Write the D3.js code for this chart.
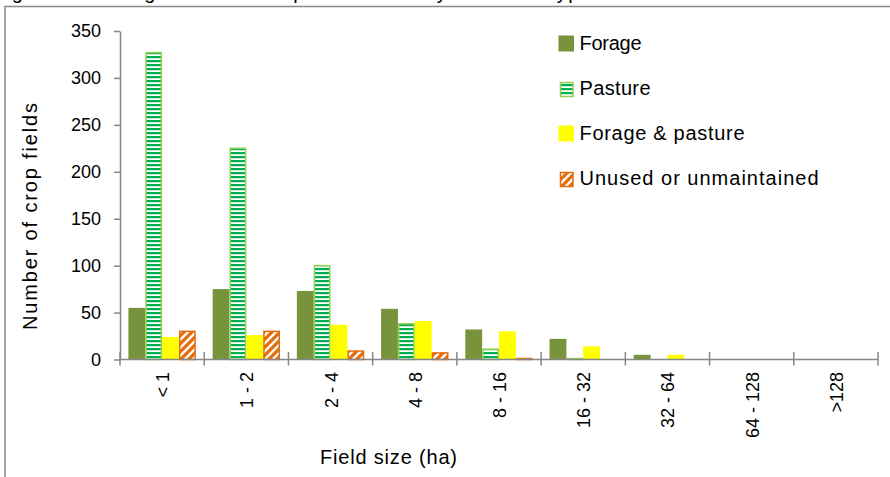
<!DOCTYPE html>
<html>
<head>
<meta charset="utf-8">
<script src="https://cdn.jsdelivr.net/npm/d3@7"></script>
<style>
  html, body { margin: 0; padding: 0; background: #fff; }
  svg { display: block; font-family: "Liberation Sans", Arial, sans-serif; }
</style>
</head>
<body>
<svg id="chart" width="890" height="477"></svg>
<script>
const categories = ["< 1", "1 - 2", "2 - 4", "4 - 8", "8 - 16", "16 - 32", "32 - 64", "64 - 128", ">128"];
const seriesNames = ["Forage", "Pasture", "Forage & pasture", "Unused or unmaintained"];
const forage        = [55, 75, 73, 54, 32, 22, 5, 0, 0];
const pasture       = [327, 225, 100, 38, 11, 1, 0, 0, 0];
const foragePasture = [24, 26, 37, 41, 30, 14, 5, 0, 0];
const unused        = [30, 30, 9, 7, 1, 0, 0, 0, 0];
const yTicks = [0, 50, 100, 150, 200, 250, 300, 350];
const yTitle = "Number of crop fields";
const xTitle = "Field size (ha)";
const caption = "Figure 4: Histogram of all crop field sizes by land use type";

const seriesValues = [forage, pasture, foragePasture, unused];
const svg = d3.select("#chart");

// patterns
const defs = svg.append("defs");
const pStripe = defs.append("pattern").attr("id", "pat-pasture")
  .attr("patternUnits", "userSpaceOnUse").attr("width", 8).attr("height", 4);
pStripe.append("rect").attr("width", 8).attr("height", 4).attr("fill", "#ffffff");
pStripe.append("rect").attr("width", 8).attr("height", 2.2).attr("fill", "#00B050");

const pDiag = defs.append("pattern").attr("id", "pat-unused")
  .attr("patternUnits", "userSpaceOnUse").attr("width", 8).attr("height", 8);
pDiag.append("rect").attr("width", 8).attr("height", 8).attr("fill", "#E46C0A");
pDiag.append("path").attr("d", "M-2,2 L2,-2 M0,8 L8,0 M6,10 L10,6")
  .attr("stroke", "#ffffff").attr("stroke-width", 2.4);

const styles = [
  { fill: "#77933C", stroke: "none", sw: 0 },
  { fill: "url(#pat-pasture)", stroke: "#92D050", sw: 1.5 },
  { fill: "#FFFF00", stroke: "none", sw: 0 },
  { fill: "url(#pat-unused)", stroke: "#E46C0A", sw: 1.5 }
];

// frame and caption (caption is cropped at the top edge, as in the reference)
svg.append("text").attr("x", -8).attr("y", -1).attr("font-size", 20)
  .attr("textLength", 600).attr("lengthAdjust", "spacing").text(caption);
svg.append("rect").attr("x", 5).attr("y", 6.5).attr("width", 900).attr("height", 500)
  .attr("fill", "none").attr("stroke", "#898989").attr("stroke-width", 1.5);

const x = d3.scaleBand().domain(categories).range([120, 878]).paddingInner(0).paddingOuter(0);
const bw = x.bandwidth();
const xs = d3.scaleBand().domain(d3.range(seriesNames.length)).range([bw * 0.1, bw * 0.9]).padding(0);
const y = d3.scaleLinear().domain([0, 350]).range([359.5, 31]);

// bars
seriesValues.forEach((vals, si) => {
  const st = styles[si];
  svg.append("g").selectAll("rect")
    .data(vals.map((v, i) => ({ v, c: categories[i] })).filter(d => d.v > 0))
    .join("rect")
    .attr("x", d => x(d.c) + xs(si) + st.sw / 2)
    .attr("width", xs.bandwidth() - st.sw)
    .attr("y", d => y(d.v))
    .attr("height", d => y(0) - y(d.v))
    .attr("fill", st.fill)
    .attr("stroke", st.stroke)
    .attr("stroke-width", st.sw);
});

// y axis
const yAxis = svg.append("g").attr("transform", "translate(120,0)")
  .call(d3.axisLeft(y).tickValues(yTicks).tickSize(6).tickPadding(13).tickSizeOuter(0));
yAxis.select(".domain").attr("stroke", "#868686").attr("stroke-width", 1.5);
yAxis.selectAll(".tick line").attr("stroke", "#868686").attr("stroke-width", 1.5);
yAxis.selectAll(".tick text").attr("font-size", 18).attr("fill", "#000")
  .attr("font-family", "Liberation Sans, Arial, sans-serif");

// x axis line and boundary ticks
const xAxisG = svg.append("g");
xAxisG.append("line").attr("x1", x.range()[0]).attr("x2", x.range()[1])
  .attr("y1", y(0)).attr("y2", y(0)).attr("stroke", "#868686").attr("stroke-width", 1.5);
const bounds = categories.map(c => x(c)).concat([x.range()[1]]);
xAxisG.selectAll("line.bt").data(bounds).join("line").attr("class", "bt")
  .attr("x1", d => d).attr("x2", d => d)
  .attr("y1", y(0) - 7.5).attr("y2", y(0) + 6)
  .attr("stroke", "#868686").attr("stroke-width", 1.5);

// x labels (rotated)
xAxisG.selectAll("text.xl").data(categories).join("text").attr("class", "xl")
  .attr("transform", d => `translate(${x(d) + bw / 2 + 7},${y(0) + 12.5}) rotate(-90)`)
  .attr("text-anchor", "end").attr("font-size", 18).attr("fill", "#000")
  .text(d => d);

// axis titles
svg.append("text").attr("transform", "translate(37,216.5) rotate(-90)")
  .attr("text-anchor", "middle").attr("font-size", 20)
  .attr("textLength", 227).attr("lengthAdjust", "spacing").text(yTitle);
svg.append("text").attr("x", 388.5).attr("y", 464)
  .attr("text-anchor", "middle").attr("font-size", 20)
  .attr("textLength", 137).attr("lengthAdjust", "spacing").text(xTitle);

// legend
const legendLens = [62, 71, 165, 239];
const leg = svg.append("g");
seriesNames.forEach((name, i) => {
  const baseY = 50 + i * 45;
  const st = styles[i];
  if (st.sw > 0) {
    leg.append("rect").attr("x", 560.5).attr("y", baseY - 12.5).attr("width", 12.5).attr("height", 14)
      .attr("fill", st.fill).attr("stroke", st.stroke).attr("stroke-width", st.sw);
  } else {
    leg.append("rect").attr("x", 558.5).attr("y", baseY - 14.5).attr("width", 15.5).attr("height", 16)
      .attr("fill", st.fill);
  }
  leg.append("text").attr("x", 579.5).attr("y", baseY).attr("font-size", 20)
    .attr("textLength", legendLens[i]).attr("lengthAdjust", "spacing").text(name);
});
</script>
</body>
</html>
